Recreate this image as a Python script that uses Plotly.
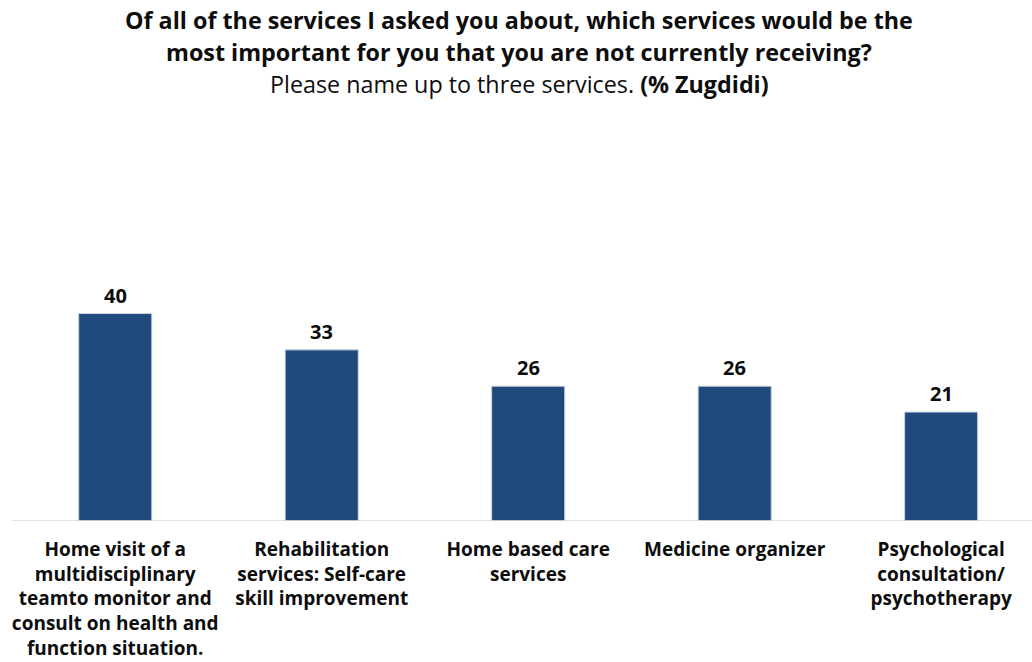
import plotly.graph_objects as go

# Survey results: share of respondents naming each service (% Zugdidi)
categories = [
    "Home visit of a<br>multidisciplinary<br>teamto monitor and<br>consult on health and<br>function situation.",
    "Rehabilitation<br>services: Self-care<br>skill improvement",
    "Home based care<br>services",
    "Medicine organizer",
    "Psychological<br>consultation/<br>psychotherapy",
]
values = [40, 33, 26, 26, 21]

FONT = "Open Sans"
BAR_COLOR = "#204A7B"
TEXT_COLOR = "#0d0d0d"

xpos = list(range(len(categories)))

fig = go.Figure()
fig.add_trace(go.Bar(
    x=xpos,
    y=values,
    width=0.354,
    marker=dict(color=BAR_COLOR, line=dict(color="#c9d3e3", width=1)),
    hoverinfo="skip",
))

# value labels above each bar
for x, v in zip(xpos, values):
    fig.add_annotation(
        x=x, y=v, xref="x", yref="y", text=f"<b>{v}</b>",
        showarrow=False, xanchor="center", yanchor="bottom", yshift=3,
        font=dict(family=FONT, size=20, color=TEXT_COLOR),
    )

fig.update_layout(
    width=1032,
    height=662,
    margin=dict(l=12, r=0, t=131, b=141),
    paper_bgcolor="white",
    plot_bgcolor="white",
    showlegend=False,
    xaxis=dict(
        tickmode="array",
        tickvals=xpos,
        ticktext=[f"<b>{c}</b>" for c in categories],
        range=[-0.5, 4.44],
        showgrid=False,
        zeroline=False,
        showline=False,
        ticks="",
        ticklabelstandoff=15,
        tickfont=dict(family=FONT, size=19, color=TEXT_COLOR),
    ),
    yaxis=dict(
        range=[0, 75.2],
        visible=False,
        showgrid=False,
        zeroline=False,
    ),
    shapes=[dict(
        type="line", xref="paper", yref="y",
        x0=0, x1=1, y0=0, y1=0,
        line=dict(color="#d9d9d9", width=1.5),
    )],
)

title_lines = [
    ("<b>Of all of the services I asked you about, which services would be the</b>", 20),
    ("<b>most important for you that you are not currently receiving?</b>", 52),
    ("Please name up to three services. <b>(% Zugdidi)</b>", 84),
]
plot_h = 662 - 131 - 141
for text, ypx in title_lines:
    fig.add_annotation(
        text=text, xref="paper", yref="paper",
        x=(519 - 12) / 1020, y=1 + (131 - ypx) / plot_h,
        xanchor="center", yanchor="middle", showarrow=False,
        font=dict(family=FONT, size=23.3, color=TEXT_COLOR),
    )

fig.write_html("out.html")
